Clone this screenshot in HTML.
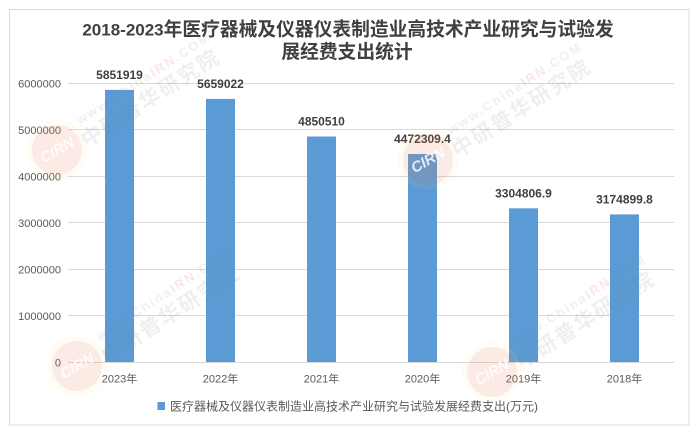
<!DOCTYPE html>
<html>
<head>
<meta charset="utf-8">
<style>
  html,body{margin:0;padding:0;background:#fff;}
  svg{display:block;}
  .ylab{font-family:"Liberation Sans","Noto Sans CJK SC",sans-serif;font-size:11px;fill:#595959;}
  .xlab{font-family:"Liberation Sans","Noto Sans CJK SC",sans-serif;font-size:11px;fill:#595959;}
  .dlab{font-family:"Liberation Sans","Noto Sans CJK SC",sans-serif;font-size:12px;font-weight:bold;fill:#404040;}
</style>
</head>
<body>
<svg width="700" height="437" viewBox="0 0 700 437" xmlns="http://www.w3.org/2000/svg">
  <defs>
    <g id="wm">
      <circle cx="0" cy="0" r="30" fill="rgba(250,220,120,0.08)"/>
      <circle cx="0" cy="0" r="25" fill="rgba(225,70,70,0.09)"/>
      <text x="0" y="5" transform="rotate(-30)" text-anchor="middle" font-family="Liberation Sans, sans-serif" font-size="15" font-weight="bold" font-style="italic" fill="rgba(255,255,255,0.8)">CIRN</text>
      <text x="0" y="0" transform="translate(23,-25) rotate(-33)" font-family="Liberation Sans, sans-serif" font-size="13" font-weight="bold" letter-spacing="2" fill="rgba(120,120,120,0.12)">www.China<tspan fill="rgba(220,80,80,0.14)">IRN</tspan>.COM</text>
      <text x="0" y="0" transform="translate(30,-2) rotate(-33)" font-family="Liberation Sans, 'Noto Sans CJK SC', sans-serif" font-size="21" font-weight="bold" letter-spacing="2" fill="rgba(120,120,120,0.12)">中研普华研究院</text>
    </g>
  </defs>

  <rect x="0" y="0" width="700" height="437" fill="#fff"/>
  <rect x="9.5" y="9.5" width="679.5" height="415.5" fill="none" stroke="#d9d9d9" stroke-width="1"/>

  <!-- Title -->
  <text x="348" y="35.5" text-anchor="middle" font-family="Liberation Sans, 'Noto Sans CJK SC', sans-serif" font-weight="bold" fill="#404040"><tspan font-size="17">2018-2023</tspan><tspan font-size="18.75" font-family="'Noto Sans CJK SC', sans-serif">年医疗器械及仪器仪表制造业高技术产业研究与试验发</tspan></text>
  <text x="347" y="58" text-anchor="middle" font-family="'Noto Sans CJK SC', sans-serif" font-size="18.75" font-weight="bold" fill="#404040">展经费支出统计</text>

  <!-- Gridlines -->
  <g stroke="#d9d9d9" stroke-width="1">
    <line x1="68" y1="83.5" x2="674" y2="83.5"/>
    <line x1="68" y1="129.5" x2="674" y2="129.5"/>
    <line x1="68" y1="176.5" x2="674" y2="176.5"/>
    <line x1="68" y1="222.5" x2="674" y2="222.5"/>
    <line x1="68" y1="269.5" x2="674" y2="269.5"/>
    <line x1="68" y1="315.5" x2="674" y2="315.5"/>
    <line x1="68" y1="362.5" x2="674" y2="362.5"/>
  </g>

  <!-- Y labels -->
  <g class="ylab" text-anchor="end">
    <text x="61" y="87.5">6000000</text>
    <text x="61" y="134">5000000</text>
    <text x="61" y="180.5">4000000</text>
    <text x="61" y="227">3000000</text>
    <text x="61" y="273.5">2000000</text>
    <text x="61" y="320">1000000</text>
    <text x="61" y="366.5">0</text>
  </g>

  <!-- Bars -->
  <g fill="#5b9bd5">
    <rect x="105" y="89.9" width="29" height="272.1"/>
    <rect x="206" y="98.9" width="29" height="263.1"/>
    <rect x="307" y="136.5" width="29" height="225.5"/>
    <rect x="408" y="154" width="29" height="208"/>
    <rect x="509" y="208.3" width="29" height="153.7"/>
    <rect x="610" y="214.4" width="29" height="147.6"/>
  </g>

  <!-- Data labels -->
  <g class="dlab" text-anchor="middle">
    <text x="119.5" y="79">5851919</text>
    <text x="220.5" y="88">5659022</text>
    <text x="321.5" y="125.5">4850510</text>
    <text x="422.5" y="143">4472309.4</text>
    <text x="523.5" y="197.5">3304806.9</text>
    <text x="624.5" y="203.5">3174899.8</text>
  </g>

  <!-- X labels -->
  <g class="xlab" text-anchor="middle">
    <text x="119.5" y="382.5">2023年</text>
    <text x="220.5" y="382.5">2022年</text>
    <text x="321.5" y="382.5">2021年</text>
    <text x="422.5" y="382.5">2020年</text>
    <text x="523.5" y="382.5">2019年</text>
    <text x="624.5" y="382.5">2018年</text>
  </g>

  <!-- Legend -->
  <rect x="157.5" y="402" width="7.5" height="8" fill="#5b9bd5"/>
  <text x="170" y="410.5" font-family="Liberation Sans, 'Noto Sans CJK SC', sans-serif" font-size="12" fill="#595959">医疗器械及仪器仪表制造业高技术产业研究与试验发展经费支出(万元)</text>

  <!-- Watermarks -->
  <use href="#wm" x="57" y="150"/>
  <use href="#wm" x="428" y="160"/>
  <use href="#wm" x="77" y="366"/>
  <use href="#wm" x="492" y="372"/>
</svg>
</body>
</html>
